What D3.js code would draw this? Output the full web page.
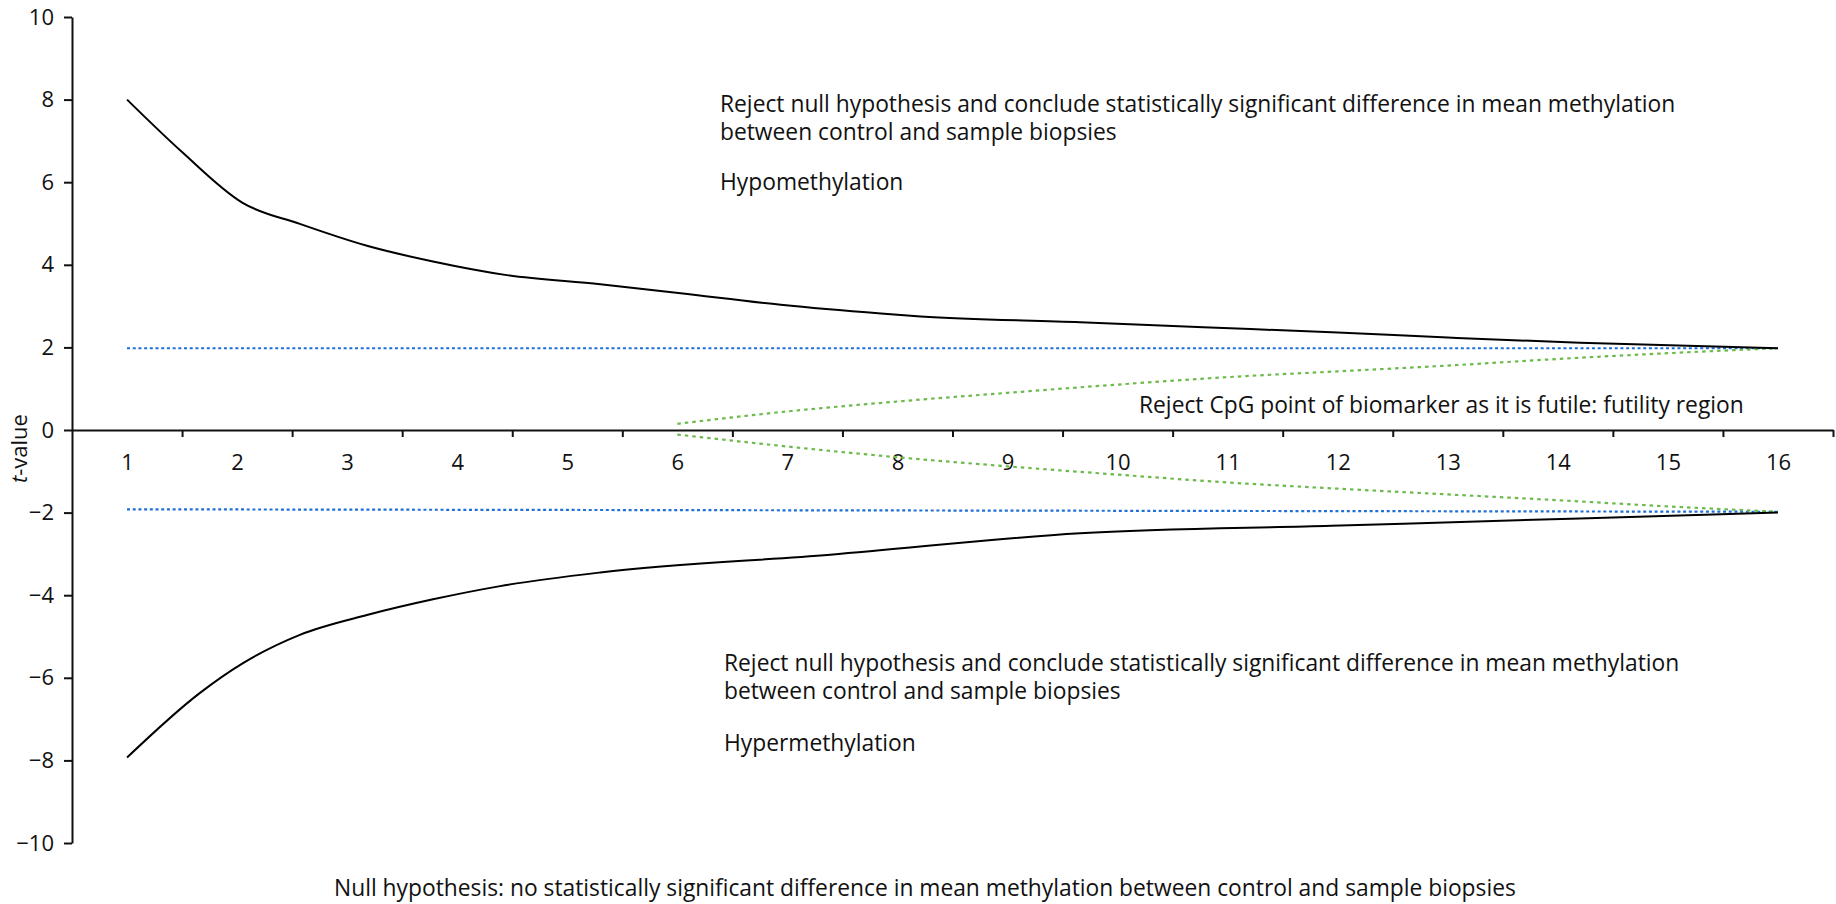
<!DOCTYPE html>
<html>
<head>
<meta charset="utf-8">
<script src="https://cdn.jsdelivr.net/npm/d3@7"></script>
<style>
  html, body { margin: 0; padding: 0; background: #fff; }
  svg text { font-family: "Open Sans", "Noto Sans", sans-serif; fill: #111; }
</style>
</head>
<body>
<svg id="chart" width="1836" height="904"></svg>
<script>
// ---- Data ----
const categories = [1, 2, 3, 4, 5, 6, 7, 8, 9, 10, 11, 12, 13, 14, 15, 16];
const yTickValues = [-10, -8, -6, -4, -2, 0, 2, 4, 6, 8, 10];

// upper stopping boundary (hypomethylation)
const upperX = [1, 1.5, 2.05, 2.57, 3.18, 3.78, 4.45, 5.3, 6.03, 6.94, 7.85, 8.21, 9.66, 10.78, 12, 13, 14.2, 16];
const upperT = [8.0, 6.73, 5.5, 4.99, 4.46, 4.08, 3.75, 3.53, 3.31, 3.03, 2.82, 2.75, 2.61, 2.49, 2.36, 2.24, 2.11, 1.98];

// lower stopping boundary (hypermethylation)
const lowerX = [1, 1.66, 2.05, 2.57, 3.18, 3.78, 4.39, 5.3, 7.39, 9.66, 11.94, 14.2, 16];
const lowerT = [-7.93, -6.37, -5.65, -4.96, -4.48, -4.10, -3.78, -3.45, -3.02, -2.50, -2.32, -2.14, -2.0];

// futility boundaries
const futX = [6, 7, 8, 9, 10, 11, 12, 13, 14, 15, 16];
const futUpperT = [0.15, 0.45, 0.69, 0.9, 1.1, 1.28, 1.42, 1.56, 1.72, 1.86, 1.98];
const futLowerT = [-0.11, -0.40, -0.66, -0.88, -1.08, -1.27, -1.42, -1.56, -1.70, -1.85, -1.98];

// critical values (fixed-sample)
const critX = [1, 16];
const critUpperT = [1.98, 1.98];
const critLowerT = [-1.92, -1.98];

const upperText = ["Reject null hypothesis and conclude statistically significant difference in mean methylation",
                   "between control and sample biopsies"];
const lowerText = upperText;
const hypoLabel = "Hypomethylation";
const hyperLabel = "Hypermethylation";
const futilityLabel = "Reject CpG point of biomarker as it is futile: futility region";
const nullLabel = "Null hypothesis: no statistically significant difference in mean methylation between control and sample biopsies";

// ---- Drawing ----
const svg = d3.select("#chart");
const FS = 22.8;   // annotation text
const TFS = 22;    // tick labels

const x = d3.scaleLinear().domain([0.5, 16.5]).range([72, 1833]);
const y = d3.scaleLinear().domain([-10, 10]).range([843, 17]);

// Y axis
const yAxis = svg.append("g")
  .attr("transform", `translate(${x(0.5)},0)`)
  .call(d3.axisLeft(y).tickValues(yTickValues).tickSize(8).tickPadding(10).tickSizeOuter(0));
yAxis.selectAll("path, line").attr("stroke", "#111").attr("stroke-width", 2);
yAxis.selectAll("text").style("font-size", TFS + "px").attr("fill", "#111");

// X axis (ticks between categories)
const xAxis = svg.append("g")
  .attr("transform", `translate(0,${y(0)})`)
  .call(d3.axisBottom(x).tickValues(categories.map(c => c + 0.5)).tickSize(7).tickFormat("").tickSizeOuter(0));
xAxis.selectAll("path, line").attr("stroke", "#111").attr("stroke-width", 2);

// X category labels
const xLabels = svg.append("g")
  .attr("transform", `translate(0,${y(0)})`)
  .call(d3.axisBottom(x).tickValues(categories).tickSize(0).tickPadding(24).tickFormat(d3.format("d")));
xLabels.select(".domain").remove();
xLabels.selectAll("text").style("font-size", TFS + "px").attr("fill", "#111");

// Y axis title
svg.append("text")
  .attr("transform", `translate(27,${y(-0.45)}) rotate(-90)`)
  .attr("text-anchor", "middle")
  .style("font-size", TFS + "px")
  .html('<tspan font-style="italic">t</tspan>-value');

const line = d3.line().x(d => x(d[0])).y(d => y(d[1]));
const zip = (xs, ys) => xs.map((v, i) => [v, ys[i]]);

// critical value lines
[critUpperT, critLowerT].forEach(ts => {
  svg.append("path")
    .attr("d", line.curve(d3.curveLinear)(zip(critX, ts)))
    .attr("fill", "none").attr("stroke", "#1f6fd8").attr("stroke-width", 2.2)
    .attr("stroke-dasharray", "3,2.7");
});

// futility lines
[futUpperT, futLowerT].forEach(ts => {
  svg.append("path")
    .attr("d", line.curve(d3.curveMonotoneX)(zip(futX, ts)))
    .attr("fill", "none").attr("stroke", "#6cba4c").attr("stroke-width", 2.2)
    .attr("stroke-dasharray", "3.5,4");
});

// stopping boundaries
[[upperX, upperT], [lowerX, lowerT]].forEach(([xs, ts]) => {
  svg.append("path")
    .attr("d", line.curve(d3.curveMonotoneX)(zip(xs, ts)))
    .attr("fill", "none").attr("stroke", "#000").attr("stroke-width", 2);
});

// annotations
function block(lines, x0, y0, lh) {
  lines.forEach((t, i) => {
    svg.append("text").attr("x", x0).attr("y", y0 + i * lh)
      .style("font-size", FS + "px").text(t);
  });
}
block(upperText, 720, 112, 28);
block([hypoLabel], 720, 190, 28);
block(lowerText, 724, 671, 28);
block([hyperLabel], 724, 751, 28);
block([futilityLabel], 1139, 413, 28);
block([nullLabel], 334, 896, 28);
</script>
</body>
</html>
